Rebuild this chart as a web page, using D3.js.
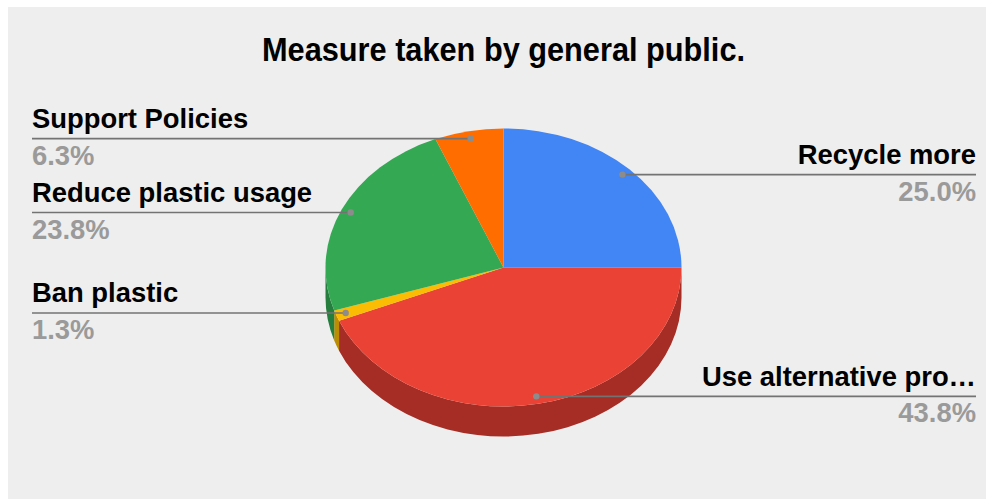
<!DOCTYPE html>
<html>
<head>
<meta charset="utf-8">
<script src="https://cdn.jsdelivr.net/npm/d3@7"></script>
<style>
  html, body { margin: 0; padding: 0; background: #ffffff; }
  svg { display: block; }
  text { font-family: "Liberation Sans", Arial, sans-serif; font-weight: bold; }
</style>
</head>
<body>
<svg id="chart" width="986" height="499"></svg>
<script>
// Survey responses (counts out of 80) — order follows the pie, clockwise from 12 o'clock
const categories = ["Recycle more", "Use alternative pro\u2026", "Ban plastic", "Reduce plastic usage", "Support Policies"];
const counts = [20, 35, 1, 19, 5];
const percentLabels = ["25.0%", "43.8%", "1.3%", "23.8%", "6.3%"];
const topColors = ["#4285f4", "#ea4335", "#fbbc04", "#34a853", "#ff6d01"];
const sideColors = ["#2f5fb0", "#a52d25", "#bc8d03", "#267e3e", "#b84f00"];
const titleText = "Measure taken by general public.";

const W = 986, H = 499;
const svg = d3.select("#chart");

// panel background
svg.append("rect").attr("x", 8).attr("y", 7).attr("width", W - 8).attr("height", H - 7)
  .attr("fill", "#eeeeee");

// title
svg.append("text")
  .attr("x", 503.5).attr("y", 61)
  .attr("text-anchor", "middle")
  .attr("font-size", 34)
  .attr("textLength", 483)
  .attr("lengthAdjust", "spacingAndGlyphs")
  .attr("fill", "#000000")
  .text(titleText);

// ellipse geometry for the tilted pie
const cx = 503.5, cy = 267.5, rx = 178, ry = 139, depth = 30;
const R = 100, sx = rx / R, sy = ry / R;
const dScaled = depth / sy;

const pie = d3.pie().sort(null).value(d => d)(counts);
const arc = d3.arc().innerRadius(0).outerRadius(R);

const pieG = svg.append("g").attr("transform", `translate(${cx},${cy}) scale(${sx},${sy})`);

// front walls: only the part of each slice between 90° and 270° faces the viewer
const sideG = pieG.append("g");
pie.forEach((p, i) => {
  const a0 = Math.max(p.startAngle, Math.PI / 2);
  const a1 = Math.min(p.endAngle, 3 * Math.PI / 2);
  if (a1 <= a0) return;
  const s0 = a0 - Math.PI / 2, s1 = a1 - Math.PI / 2;
  const path = d3.path();
  path.moveTo(R * Math.cos(s0), R * Math.sin(s0));
  path.arc(0, 0, R, s0, s1, false);
  path.lineTo(R * Math.cos(s1), R * Math.sin(s1) + dScaled);
  path.arc(0, dScaled, R, s1, s0, true);
  path.closePath();
  sideG.append("path").attr("d", path.toString()).attr("fill", sideColors[i]);
});

// top faces
pieG.selectAll("path.top").data(pie).join("path")
  .attr("class", "top")
  .attr("d", arc)
  .attr("fill", (d, i) => topColors[i]);

// leader lines and labels
const lineLeft = 32, lineRight = 976, dotFrac = 0.945;
const labelG = svg.append("g");
pie.forEach((p, i) => {
  const mid = (p.startAngle + p.endAngle) / 2;
  const dx = cx + rx * dotFrac * Math.sin(mid);
  const dy = cy - ry * dotFrac * Math.cos(mid);
  const right = Math.sin(mid) > 0;
  const endX = right ? lineRight : lineLeft;
  labelG.append("line")
    .attr("x1", dx).attr("y1", dy).attr("x2", endX).attr("y2", dy)
    .attr("stroke", "#737373").attr("stroke-width", 1.6);
  labelG.append("circle").attr("cx", dx).attr("cy", dy).attr("r", 3.2).attr("fill", "#8c8c8c");
  labelG.append("text")
    .attr("x", endX).attr("y", dy - 10.5)
    .attr("text-anchor", right ? "end" : "start")
    .attr("font-size", 27.4).attr("fill", "#000000")
    .text(categories[i]);
  labelG.append("text")
    .attr("x", endX).attr("y", dy + 26)
    .attr("text-anchor", right ? "end" : "start")
    .attr("font-size", 27.4).attr("fill", "#9a9a9a")
    .text(percentLabels[i]);
});
</script>
</body>
</html>
